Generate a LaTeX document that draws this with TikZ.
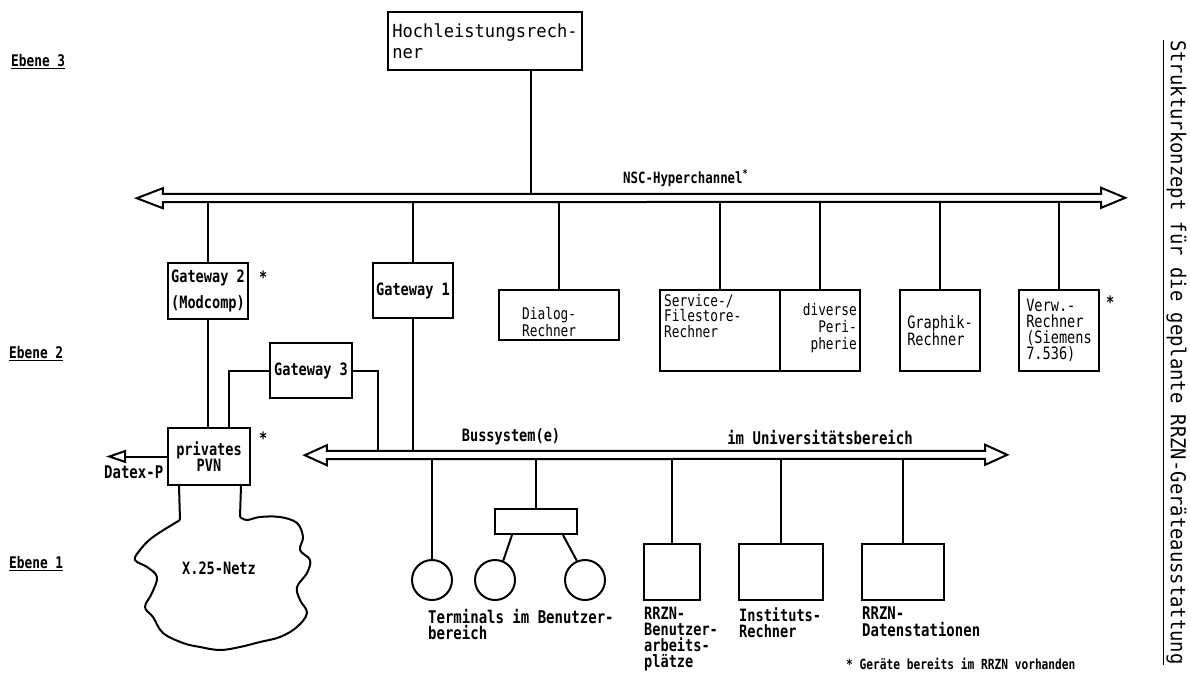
\documentclass[tikz,border=0pt]{standalone}
\usepackage{fontspec}
\setmainfont{DejaVu Sans Mono}[FakeStretch=0.8]
\newfontfamily\widetw{DejaVu Sans Mono}[FakeStretch=0.95]
\newfontfamily\titletw{DejaVu Sans Mono}[FakeStretch=0.92]
\usetikzlibrary{arrows.meta}
\begin{document}
\begin{tikzpicture}[x=1pt,y=-1pt,
  box/.style={draw, line width=2pt, inner sep=0pt, align=left},
  conn/.style={line width=2pt},
  busline/.style={line width=2pt, fill=white, line join=miter},
  txt/.style={inner sep=0pt, align=left, font=\fontsize{16}{16.5}\selectfont},
  btxt/.style={inner sep=0pt, align=left, font=\bfseries\fontsize{17}{16.5}\selectfont},
  ebene/.style={inner sep=0pt, anchor=west, font=\bfseries\fontsize{16}{16}\selectfont},
  term/.style={draw, circle, line width=2pt, minimum size=40pt, inner sep=0pt},
]
\fill[white] (0,0) rectangle (1190,686);
\useasboundingbox (0,0) rectangle (1190,686);

% level labels
\node[ebene] (e3) at (11,62) {\underline{Ebene 3}};
\node[ebene] (e2) at (9,354) {\underline{Ebene 2}};
\node[ebene] (e1) at (9,564) {\underline{Ebene 1}};

% top computer
\node[box, minimum width=194pt, minimum height=58pt, font=\widetw\fontsize{18}{21}\selectfont] (hoch) at (485,41) {Hochleistungsrech-\\ner};

% hyperchannel
\node[inner sep=0pt, minimum width=938pt, minimum height=8pt] (hyper) at (632,198) {};
\draw[busline] (hyper.north west) -- (hyper.north east) -- ++(0,-6) -- ++(24,10) -- ++(-24,10) -- ++(0,-6)
  -- (hyper.south west) -- ++(0,6) -- ++(-26,-10) -- ++(26,-10) -- cycle;
\node[btxt, anchor=west, font=\bfseries\fontsize{15.5}{16}\selectfont] (nsc) at (623,178) {NSC-Hyperchannel\textsuperscript{*}};
\draw[conn] ([xshift=-52pt]hoch.south east) -- ([xshift=-52pt]hoch.south east |- hyper.north);

% level 2 boxes
\node[box, minimum width=80pt, minimum height=56pt, font=\bfseries\fontsize{17}{26}\selectfont] (gw2) at (208,291) {Gateway 2\\(Modcomp)};
\node[btxt, anchor=west] (s2) at (259,277) {*};
\node[box, minimum width=80pt, minimum height=55pt, font=\bfseries\fontsize{17}{16}\selectfont] (gw1) at (413,290.5) {Gateway 1};
\node[box, minimum width=82pt, minimum height=55pt, font=\bfseries\fontsize{17}{16}\selectfont] (gw3) at (311,370.5) {Gateway 3};
\node[box, minimum width=120pt, minimum height=50pt] (dialog) at (559,315) {};
\node[txt, anchor=south west, font=\fontsize{16}{17}\selectfont] (dialogt) at ([shift={(24,-4)}]dialog.south west) {Dialog-\\Rechner};
\node[box, minimum width=120pt, minimum height=81pt] (service) at (720,330.5) {};
\node[txt, anchor=north west, font=\fontsize{16}{15.5}\selectfont] (servicet) at ([shift={(5,5)}]service.north west) {Service-/\\Filestore-\\Rechner};
\node[box, minimum width=80pt, minimum height=81pt] (diverse) at (820,330.5) {};
\node[txt, anchor=north east, align=right, font=\fontsize{16}{17}\selectfont] (diverset) at ([shift={(-4,14)}]diverse.north east) {diverse\\Peri-\\pherie};
\node[box, minimum width=80pt, minimum height=81pt, font=\fontsize{17}{17}\selectfont] (graphik) at (940,330.5) {Graphik-\\Rechner};
\node[box, minimum width=80pt, minimum height=81pt, font=\fontsize{17}{16}\selectfont] (verw) at (1059,330.5) {Verw.-\\Rechner\\(Siemens\\7.536)};
\node[btxt, anchor=west] (s3) at (1106,302) {*};

% connections to hyperchannel
\draw[conn] (gw2.north) -- (gw2.north |- hyper.south);
\draw[conn] (gw1.north) -- (gw1.north |- hyper.south);
\draw[conn] (dialog.north) -- (dialog.north |- hyper.south);
\draw[conn] (service.north) -- (service.north |- hyper.south);
\draw[conn] (diverse.north) -- (diverse.north |- hyper.south);
\draw[conn] (graphik.north) -- (graphik.north |- hyper.south);
\draw[conn] (verw.north) -- (verw.north |- hyper.south);

% private PVN
\node[box, align=center, minimum width=82pt, minimum height=57pt, font=\bfseries\fontsize{17}{16}\selectfont] (pvn) at (209,456.5) {privates\\PVN};
\node[btxt, anchor=west] (s1) at (259,438) {*};
\draw[conn] (gw2.south) -- (gw2.south |- pvn.north);
\draw[conn] (gw3.west) -| ([xshift=62pt]pvn.north west);
\coordinate (dx) at (106,456.5);
\draw[conn, -{Triangle[open, length=20pt, width=13pt, line width=2pt]}] (pvn.west) -- (dx);
\node[btxt, anchor=north west, font=\bfseries\fontsize{17.5}{16}\selectfont] (datex) at (104,466) {Datex-P};

% X.25 cloud
\coordinate (cl1) at (180,520);
\coordinate (cl2) at (240,517);
\draw[conn] ([xshift=12pt]pvn.south west) -- (cl1);
\draw[conn] ([xshift=-10pt]pvn.south east) -- (cl2);
\draw[conn, line join=round] plot[smooth, tension=0.6] coordinates {(180,520) (153,537) (140,550) (135,560) (147,567) (157,577) (152,593) (145,607) (153,617) (163,633) (183,643) (200,647) (220,650) (240,647) (260,642) (280,637) (297,627) (307,613) (300,600) (297,587) (307,573) (310,560) (300,550) (303,537) (297,523) (280,517) (260,517) (247,520) (240,517)};
\node[btxt] (x25) at (219,568) {X.25-Netz};

% university bus
\node[inner sep=0pt, minimum width=658pt, minimum height=8pt] (bus) at (656,455) {};
\draw[busline] (bus.north west) -- (bus.north east) -- ++(0,-6) -- ++(22,10) -- ++(-22,10) -- ++(0,-6)
  -- (bus.south west) -- ++(0,6) -- ++(-22,-10) -- ++(22,-10) -- cycle;
\node[btxt] (bussys) at (511,437) {Bussystem(e)};
\node[btxt, font=\bfseries\fontsize{17.5}{16}\selectfont] (uni) at (820,437) {im Universitätsbereich};
\draw[conn] (gw1.south) -- (gw1.south |- bus.north);
\draw[conn] (gw3.east) -| ([xshift=51pt]bus.north west);

% level 1
\node[box, minimum width=82pt, minimum height=25pt] (hub) at (536,521.5) {};
\node[term] (t1) at (432,580) {};
\node[term] (t2) at (495,580) {};
\node[term] (t3) at (585,580) {};
\draw[conn] (t1.north) -- (t1.north |- bus.south);
\draw[conn] (hub.north) -- (hub.north |- bus.south);
\draw[conn] ([xshift=18pt]hub.south west) -- (t2.67);
\draw[conn] ([xshift=-15pt]hub.south east) -- (t3.113);

\node[box, minimum width=56pt, minimum height=56pt] (arb) at (672,572) {};
\node[box, minimum width=84pt, minimum height=56pt] (ins) at (781,572) {};
\node[box, minimum width=82pt, minimum height=56pt] (dat) at (903,572) {};
\draw[conn] (arb.north) -- (arb.north |- bus.south);
\draw[conn] (ins.north) -- (ins.north |- bus.south);
\draw[conn] (dat.north) -- (dat.north |- bus.south);

\node[btxt, anchor=north west, font=\bfseries\fontsize{17.5}{16.5}\selectfont] (termt) at (428,609) {Terminals im Benutzer-\\bereich};
\node[txt, anchor=north west, font=\bfseries\fontsize{17}{16}\selectfont] (arbt) at (644,607) {RRZN-\\Benutzer-\\arbeits-\\plätze};
\node[txt, anchor=north west, font=\bfseries\fontsize{17}{16.5}\selectfont] (inst) at (739,607) {Instituts-\\Rechner};
\node[txt, anchor=north west, font=\bfseries\fontsize{17.5}{16.5}\selectfont] (datt) at (862,607) {RRZN-\\Datenstationen};
\node[btxt, anchor=west, font=\bfseries\fontsize{14}{14}\selectfont] (foot) at (846,664) {* Geräte bereits im RRZN vorhanden};

% title
\node[rotate=-90, inner sep=0pt, font=\titletw\fontsize{20.5}{22}\selectfont] (title) at (1176.5,352.5) {Strukturkonzept für die geplante RRZN-Geräteausstattung};
\draw[line width=1.4pt] ([xshift=-3pt]title.south west) -- ([xshift=-3pt]title.south east);
\end{tikzpicture}
\end{document}
